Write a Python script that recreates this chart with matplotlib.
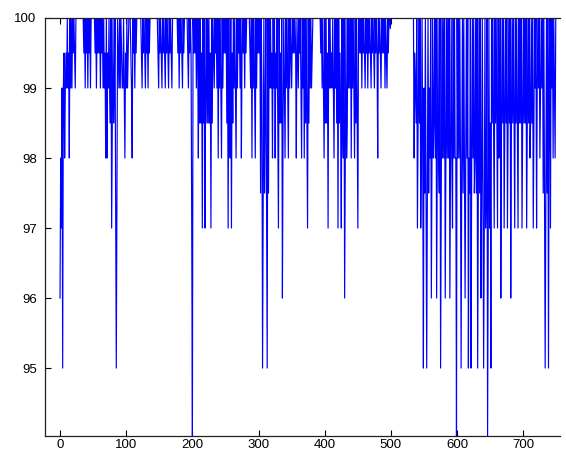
import numpy as np
import matplotlib
matplotlib.use("Agg")
import matplotlib.pyplot as plt

# Percentage signal: each entry is how far the sample falls below 100 (sample index = position)
dip_depth = [
    4, 2, 3, 1, 5, 1, 0.5, 2, 1, 0.5,
    1, 0, 1, 0.5, 2, 0, 1, 0, 1, 0,
    0.5, 0, 0.5, 1, 0, 0, 0, 0, 0, 0,
    0, 0, 0, 0, 0, 0, 0.5, 0, 1, 0,
    0.5, 0, 1, 0, 0.5, 0, 1, 0, 0, 0,
    0, 0, 0, 0.5, 0, 1, 0, 0.5, 0, 0.5,
    0, 1, 0, 0.5, 0, 1, 0, 1, 0.5, 2,
    0, 2, 0.5, 1, 0, 1, 1.5, 0, 3, 1.5,
    0, 1.5, 1, 0, 2.5, 5, 2.5, 0, 0.5, 1,
    0, 1, 0, 0.5, 1, 1, 0, 1, 2, 0.5,
    1, 0, 1, 0.5, 0, 0, 0, 0.5, 1, 2,
    0, 0.5, 0, 1, 0, 0.5, 0, 0, 0, 0,
    0, 0, 0, 0.5, 1, 0, 0.5, 0, 0.5, 1,
    0, 0.5, 0, 1, 0, 0.5, 0, 0, 0, 0,
    0, 0, 0, 0, 0, 0, 0, 0, 0.5, 1,
    0, 0.5, 0, 0.5, 1, 0, 0.5, 0, 0.5, 1,
    0, 0.5, 0, 0.5, 1, 0, 0.5, 0, 0.5, 1,
    0, 0, 0, 0, 0, 0, 0, 0, 0.5, 0,
    1, 0, 0.5, 0, 0.5, 1, 0, 0.5, 0, 0,
    0, 0, 0, 0.5, 1, 0, 0.5, 0, 0.5, 3,
    5.97, 0, 0.5, 0, 0.5, 0, 1, 0, 0.5, 2,
    0, 1.5, 0, 1.5, 0.5, 3, 0, 1.5, 0, 3,
    1, 0, 1.5, 0, 1.5, 0, 1.5, 0.5, 3, 0,
    1.5, 0, 0.5, 1, 0, 0.5, 0, 1, 0, 2,
    0, 1, 0, 1, 2, 0, 1, 0, 0.5, 0,
    0.5, 0, 1.5, 0, 3, 0, 1.5, 2, 0, 3,
    0.5, 1.5, 0, 1, 0, 1, 2, 0, 1, 0,
    0.5, 0, 1, 0, 2, 0.5, 0, 0.5, 0, 1,
    0, 0.5, 0, 0, 0, 0, 0, 0.5, 1, 0,
    2, 0, 1, 0, 1, 2, 0, 1, 0, 0.5,
    0, 0.5, 0, 2.5, 0, 1, 5, 2.5, 0, 2.5,
    1.5, 0, 2.5, 5, 0, 2.5, 0, 1, 0, 1,
    0.5, 2, 0, 1, 0, 2, 0.5, 1, 0, 1.5,
    3, 0, 1.5, 0.5, 1.5, 0, 4, 1.5, 0, 1,
    2, 0, 1, 0, 1, 2, 0, 1, 0, 0.5,
    1, 0, 0.5, 0, 0.5, 0, 0.5, 2, 0, 0.5,
    1, 0, 0.5, 0, 1, 2, 0, 1, 0, 2,
    0, 1.5, 0, 1.5, 3, 0, 1.5, 0, 1, 0,
    1, 0.5, 0, 0, 0, 0, 0, 0, 0, 0,
    0, 0, 0, 0, 0.5, 0, 1, 0, 1, 2,
    0, 1.5, 0, 1.5, 0.5, 3, 0, 1, 0, 1,
    0.5, 1, 0, 1, 2, 0, 1, 0, 1.5, 0,
    3, 0, 1.5, 0.5, 1.5, 3, 0, 1.5, 2, 0,
    4, 2, 0, 2, 1.5, 0, 1, 0, 1, 0,
    2, 0, 1, 0, 1, 2, 0, 1.5, 0, 1.5,
    3, 0, 0.5, 0, 0.5, 0, 1, 0, 0.5, 0,
    0.5, 1, 0, 0.5, 0, 1, 0, 0.5, 0, 0.5,
    1, 0, 0.5, 0, 0.5, 1, 0, 0.5, 0, 0.5,
    2, 0, 0.5, 0, 0.5, 1, 0, 0.5, 0, 0.5,
    0, 1, 0, 0.5, 1, 0, 0.5, 0, 0, 0.15,
    0, 0, 0, 0, 0, 0, 0, 0, 0, 0,
    0, 0, 0, 0, 0, 0, 0, 0, 0, 0,
    0, 0, 0, 0, 0, 0, 0, 0, 0, 0,
    0, 0, 0, 0, 0, 2, 0.5, 1, 1.5, 0,
    3, 1.5, 0, 1.5, 0, 3, 2, 0, 2, 5,
    1, 2.5, 0, 2.5, 5, 2.5, 0, 2.5, 1, 2,
    0, 4, 2, 0, 2, 1.5, 0, 2, 0, 4,
    2, 0, 2, 2.5, 0, 5, 2.5, 0, 2, 0,
    2, 0, 4, 2, 0, 2, 0, 2, 0, 4,
    2, 0, 2, 3, 0, 2, 0, 2, 2, 5.97,
    0, 2, 0, 2, 0, 2, 5, 2, 0, 2.5,
    0, 2, 4, 2, 0, 2, 0, 5, 2, 2.5,
    0, 5, 2, 0, 2, 0, 2.5, 2, 0, 2.5,
    0, 5, 2.5, 0, 2.5, 0, 4, 2.5, 0, 2.5,
    5, 3, 0, 3, 2.5, 0, 5.97, 3, 0, 3,
    1.5, 5, 0, 1.5, 0, 1.5, 3, 0, 1.5, 0,
    1.5, 3, 0, 2, 1.5, 0, 4, 1.5, 0, 1.5,
    0, 3, 1.5, 0, 1.5, 0, 3, 1.5, 0, 1.5,
    0, 4, 1.5, 0, 1.5, 0, 1.5, 3, 0, 1.5,
    0, 1.5, 3, 0, 1.5, 0, 1.5, 0, 3, 1.5,
    0, 1.5, 0, 1.5, 0, 3, 1.5, 0, 1.5, 0,
    2, 1.5, 0, 1.5, 0, 3, 1.5, 0, 1, 0,
    3, 1, 0, 1, 0, 2, 1, 0, 1, 0,
    2.5, 0, 2.5, 5, 2.5, 0, 2.5, 0, 5, 1,
    0, 3, 0, 1, 0, 2, 0, 1, 2, 0,
    0, 0, 0, 0, 0,
]

x_ticks = [0, 100, 200, 300, 400, 500, 600, 700]
y_ticks = [95, 96, 97, 98, 99, 100]
x_range = (-22.7, 755.4)
y_range = (94.03, 100)

values = 100 - np.asarray(dip_depth, dtype=float)
samples = np.arange(len(values))

plt.rcParams["font.family"] = ["Liberation Sans", "DejaVu Sans"]

fig = plt.figure(figsize=(5.66, 4.53), dpi=100)
ax = fig.add_axes([45 / 566, 1 - 436 / 453, (560 - 45) / 566, (436 - 18) / 453])

ax.plot(samples, values, color=(0, 0, 1), linewidth=0.85, antialiased=True)

ax.set_xlim(*x_range)
ax.set_ylim(*y_range)
ax.set_xticks(x_ticks)
ax.set_yticks(y_ticks)
ax.set_xticklabels([str(t) for t in x_ticks])
ax.set_yticklabels([str(t) for t in y_ticks])

ax.tick_params(axis="both", direction="in", length=4, width=0.8, color="black",
               labelsize=9.5, labelcolor="black", top=True, right=False)
ax.tick_params(axis="y", pad=6)
ax.tick_params(axis="x", pad=2.5)

for side in ("left", "top", "bottom"):
    ax.spines[side].set_color("#202020")
    ax.spines[side].set_linewidth(0.9)
ax.spines["right"].set_visible(False)

fig.savefig("out.png", dpi=100, facecolor="white")
